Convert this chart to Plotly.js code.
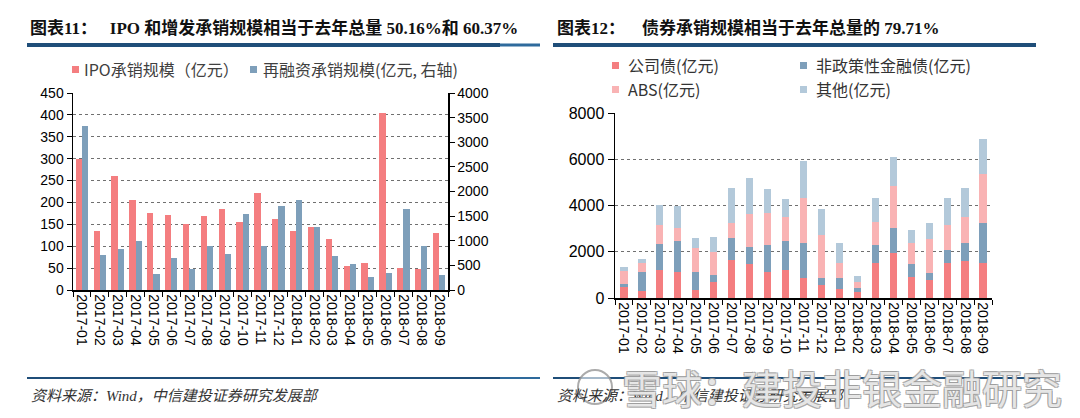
<!DOCTYPE html>
<html>
<head>
<meta charset="utf-8">
<script src="https://cdn.plot.ly/plotly-3.0.1.min.js"></script>
<style>
html,body{margin:0;padding:0;background:#fff;}
#chart{width:1080px;height:418px;}
</style>
</head>
<body>
<div id="chart"></div>
<script>
// ---------- data ----------
const months = ['2017-01','2017-02','2017-03','2017-04','2017-05','2017-06','2017-07','2017-08','2017-09','2017-10','2017-11','2017-12','2018-01','2018-02','2018-03','2018-04','2018-05','2018-06','2018-07','2018-08','2018-09'];

// Chart 11: IPO (left axis) and refinancing (right axis), 亿元
const ipoUnderwriting = [300,134,261,205,176,171,150,168,185,155,222,162,135,143,116,55,62,404,51,49,130];
const refinanceUnderwriting = [3327,720,823,995,329,659,418,899,741,1544,899,1701,1825,1270,693,535,260,350,1646,892,295];

// Chart 12: bond underwriting, stacked, 亿元
const corporateBond = [470,285,1230,1115,330,685,1655,1470,1115,1230,855,570,400,255,1530,1930,900,800,1515,1615,1515];
const financialBond = [145,830,1100,1355,815,330,960,715,1185,1240,1545,300,470,185,755,1115,570,285,555,755,1740];
const absBond = [545,400,830,570,1000,955,645,1455,1355,1030,1930,1845,660,245,1015,1815,900,1485,1085,1130,2100];
const otherBond = [170,170,855,955,470,670,1500,1545,1060,800,1615,1155,870,285,1015,1230,560,670,1170,1255,1530];

const leftTickVals = [0,50,100,150,200,250,300,350,400,450];
const rightTickVals = [0,500,1000,1500,2000,2500,3000,3500,4000];
const bondTickVals = [0,2000,4000,6000,8000];

const names11 = ['IPO承销规模（亿元）','再融资承销规模(亿元, 右轴)'];
const names12 = ['公司债(亿元)','非政策性金融债(亿元)','ABS(亿元)','其他(亿元)'];
const title11 = '图表11：   IPO 和增发承销规模相当于去年总量 50.16%和 60.37%';
const title12 = '图表12：    债券承销规模相当于去年总量的 79.71%';
const sourceText = '资料来源：Wind，中信建投证券研究发展部';
const watermark = '雪球：建投非银金融研究';

// ---------- style ----------
const RED = '#F47E80';
const BLUE = '#7E9FBA';
const PINK = '#F9B3B4';
const LBLUE = '#B3C9DA';
const RULE = '#1F4E79';
const W = 1080, H = 418;
const px = x => x / W;
const py = y => 1 - y / H;

const tickFont = {family: 'Liberation Sans, Arial, sans-serif', size: 14, color: '#000'};

const traces = [
  {type:'bar', x: months, y: ipoUnderwriting, name: names11[0], xaxis:'x', yaxis:'y',
   marker:{color:RED}, width:0.35, offset:-0.35, showlegend:false, hoverinfo:'x+y'},
  {type:'bar', x: months, y: refinanceUnderwriting, name: names11[1], xaxis:'x', yaxis:'y2',
   marker:{color:BLUE}, width:0.35, offset:0, showlegend:false, hoverinfo:'x+y'},
  {type:'bar', x: months, y: corporateBond, name: names12[0], xaxis:'x2', yaxis:'y3',
   marker:{color:RED}, width:0.4, showlegend:false},
  {type:'bar', x: months, y: financialBond, name: names12[1], xaxis:'x2', yaxis:'y3',
   marker:{color:BLUE}, width:0.4, showlegend:false},
  {type:'bar', x: months, y: absBond, name: names12[2], xaxis:'x2', yaxis:'y3',
   marker:{color:PINK}, width:0.4, showlegend:false},
  {type:'bar', x: months, y: otherBond, name: names12[3], xaxis:'x2', yaxis:'y3',
   marker:{color:LBLUE}, width:0.4, showlegend:false}
];

const xCommon = {
  type:'category', tickangle:90, tickson:'boundaries', ticks:'outside', ticklen:5,
  tickcolor:'#000', tickwidth:1, showline:true, linecolor:'#000', linewidth:1.5,
  showgrid:false, tickfont:tickFont, fixedrange:true, range:[-0.5, months.length-0.5]
};
const gridStyle = {showgrid:true, gridcolor:'#707070', griddash:'dot', gridwidth:1};

const layout = {
  width: W, height: H,
  margin:{l:0,r:0,t:0,b:0},
  paper_bgcolor:'#fff', plot_bgcolor:'rgba(0,0,0,0)',
  barmode:'stack',
  showlegend:false,
  xaxis: Object.assign({}, xCommon, {domain:[px(73), px(448)], anchor:'y'}),
  yaxis: Object.assign({}, gridStyle, {domain:[py(290), py(93)], anchor:'x', range:[0,450],
    tickvals:leftTickVals, ticks:'outside', ticklen:5, tickcolor:'#000',
    showline:true, linecolor:'#000', linewidth:1.5, zeroline:false, tickfont:tickFont, fixedrange:true}),
  yaxis2: {overlaying:'y', side:'right', anchor:'x', range:[0,4000], tickvals:rightTickVals,
    showgrid:false, zeroline:false, ticks:'outside', ticklen:5, tickcolor:'#000',
    showline:true, linecolor:'#000', linewidth:1.5, tickfont:tickFont, fixedrange:true},
  xaxis2: Object.assign({}, xCommon, {domain:[px(615), px(992)], anchor:'y3'}),
  yaxis3: Object.assign({}, gridStyle, {domain:[py(298), py(113)], anchor:'x2', range:[0,8000],
    tickvals:bondTickVals, ticks:'outside', ticklen:6, tickcolor:'#000',
    showline:true, linecolor:'#000', linewidth:1.5, zeroline:false,
    tickfont:{family:'Liberation Sans, Arial, sans-serif', size:16, color:'#000'}, fixedrange:true}),
  shapes: [
    // header rules
    {type:'line', xref:'paper', yref:'paper', x0:px(27), x1:px(500), y0:py(45), y1:py(45), line:{color:RULE, width:4}},
    {type:'line', xref:'paper', yref:'paper', x0:px(500), x1:px(540), y0:py(45), y1:py(45), line:{color:'#2E6A9C', width:3}},
    {type:'line', xref:'paper', yref:'paper', x0:px(553), x1:px(1036), y0:py(45), y1:py(45), line:{color:RULE, width:4}},
    // footer rules
    {type:'line', xref:'paper', yref:'paper', x0:px(27), x1:px(500), y0:py(378), y1:py(378), line:{color:RULE, width:2}},
    {type:'line', xref:'paper', yref:'paper', x0:px(500), x1:px(540), y0:py(378), y1:py(378), line:{color:'#2E6A9C', width:2}},
    {type:'line', xref:'paper', yref:'paper', x0:px(553), x1:px(1040), y0:py(378), y1:py(378), line:{color:RULE, width:2}},
    // legend swatches chart 11
    {type:'rect', xref:'paper', yref:'paper', x0:px(72), x1:px(79), y0:py(73), y1:py(66), fillcolor:RED, line:{width:0}},
    {type:'rect', xref:'paper', yref:'paper', x0:px(250), x1:px(257), y0:py(73), y1:py(66), fillcolor:BLUE, line:{width:0}},
    // legend swatches chart 12
    {type:'rect', xref:'paper', yref:'paper', x0:px(612), x1:px(619), y0:py(69), y1:py(62), fillcolor:RED, line:{width:0}},
    {type:'rect', xref:'paper', yref:'paper', x0:px(800), x1:px(807), y0:py(69), y1:py(62), fillcolor:BLUE, line:{width:0}},
    {type:'rect', xref:'paper', yref:'paper', x0:px(612), x1:px(619), y0:py(93), y1:py(86), fillcolor:PINK, line:{width:0}},
    {type:'rect', xref:'paper', yref:'paper', x0:px(800), x1:px(807), y0:py(93), y1:py(86), fillcolor:LBLUE, line:{width:0}},
    // watermark logo circle
    {type:'circle', xref:'paper', yref:'paper', x0:px(578), x1:px(612), y0:py(404), y1:py(370),
     line:{color:'rgba(150,150,150,0.8)', width:2}, fillcolor:'rgba(255,255,255,0.6)'}
  ],
  annotations: [
    {xref:'paper', yref:'paper', x:px(28), y:py(28), xanchor:'left', yanchor:'middle', showarrow:false,
     text:'<b>'+title11+'</b>', font:{family:'Liberation Serif, "Noto Sans CJK SC", serif', size:17, color:'#111'}},
    {xref:'paper', yref:'paper', x:px(555), y:py(28), xanchor:'left', yanchor:'middle', showarrow:false,
     text:'<b>'+title12+'</b>', font:{family:'Liberation Serif, "Noto Sans CJK SC", serif', size:17, color:'#111'}},
    // legends
    {xref:'paper', yref:'paper', x:px(82), y:py(69), xanchor:'left', yanchor:'middle', showarrow:false,
     text:names11[0], font:{family:'"Noto Sans CJK SC", sans-serif', size:16, color:'#404040'}},
    {xref:'paper', yref:'paper', x:px(261), y:py(69), xanchor:'left', yanchor:'middle', showarrow:false,
     text:names11[1], font:{family:'"Noto Sans CJK SC", sans-serif', size:16, color:'#404040'}},
    {xref:'paper', yref:'paper', x:px(626), y:py(65), xanchor:'left', yanchor:'middle', showarrow:false,
     text:names12[0], font:{family:'"Noto Sans CJK SC", sans-serif', size:16, color:'#333'}},
    {xref:'paper', yref:'paper', x:px(814), y:py(65), xanchor:'left', yanchor:'middle', showarrow:false,
     text:names12[1], font:{family:'"Noto Sans CJK SC", sans-serif', size:16, color:'#333'}},
    {xref:'paper', yref:'paper', x:px(626), y:py(89), xanchor:'left', yanchor:'middle', showarrow:false,
     text:names12[2], font:{family:'"Noto Sans CJK SC", sans-serif', size:16, color:'#333'}},
    {xref:'paper', yref:'paper', x:px(814), y:py(89), xanchor:'left', yanchor:'middle', showarrow:false,
     text:names12[3], font:{family:'"Noto Sans CJK SC", sans-serif', size:16, color:'#333'}},
    // sources
    {xref:'paper', yref:'paper', x:px(29), y:py(396), xanchor:'left', yanchor:'middle', showarrow:false,
     text:'<i>'+sourceText+'</i>', font:{family:'Liberation Serif, "Noto Sans CJK SC", serif', size:15, color:'#333'}},
    {xref:'paper', yref:'paper', x:px(555), y:py(396), xanchor:'left', yanchor:'middle', showarrow:false,
     text:'<i>'+sourceText+'</i>', font:{family:'Liberation Serif, "Noto Sans CJK SC", serif', size:15, color:'#333'}},
    // watermark
    {xref:'paper', yref:'paper', x:px(620), y:py(387), xanchor:'left', yanchor:'middle', showarrow:false,
     text:watermark, font:{family:'"Noto Sans CJK SC", sans-serif', size:40, color:'rgba(255,255,255,0.75)',
       shadow:'1px 1px 0 #999, -1px -1px 0 #999, 1px -1px 0 #999, -1px 1px 0 #999'}}
  ]
};

Plotly.newPlot('chart', traces, layout, {staticPlot:true, displayModeBar:false});
</script>
</body>
</html>
